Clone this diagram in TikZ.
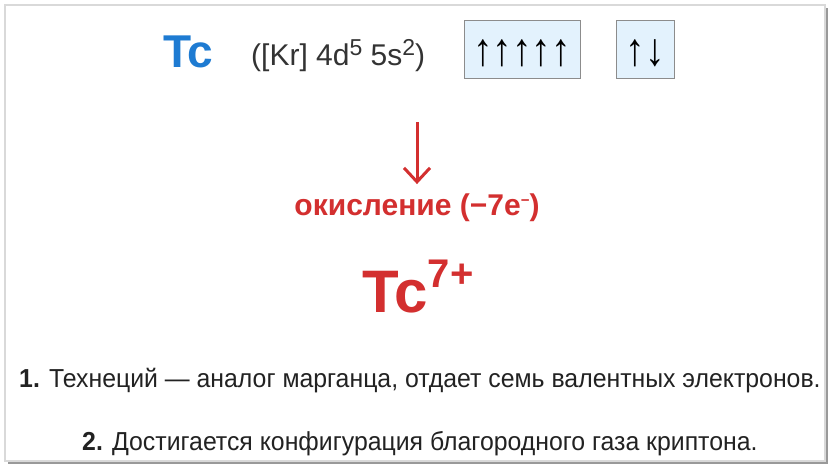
\documentclass[tikz,border=0pt]{standalone}
\usepackage{fontspec}
\setmainfont{Liberation Sans}
\newfontfamily\notefont[FakeStretch=0.955]{Liberation Sans}
\newfontfamily\spinfont[FakeStretch=0.85]{Liberation Sans}
\usetikzlibrary{positioning,arrows.meta}
\definecolor{tcblue}{HTML}{1E7BD2}
\definecolor{oxred}{HTML}{D32F2F}
\definecolor{orbfill}{HTML}{E3F2FD}
\definecolor{notegray}{HTML}{222222}
\newcommand{\upidx}[3]{\raisebox{#2}{\fontsize{#1}{#1}\selectfont #3}}
\newcommand{\spins}[1]{\raisebox{-4pt}[\height][\depth]{#1}}

\begin{document}
\begin{tikzpicture}[x=1pt,y=-1pt,on grid,
  orbital/.style={draw=black!45,fill=orbfill,line width=0.8pt,minimum height=58pt,inner sep=0pt,font=\spinfont\fontsize{46}{46}\selectfont},
  note/.style={text=notegray,font=\notefont\fontsize{26}{30}\selectfont,anchor=base west,inner sep=0pt},
  redtext/.style={text=oxred,font=\bfseries\fontsize{30}{32}\selectfont,inner sep=0pt}]
  \useasboundingbox (0,0) rectangle (836,474);
  % card
  \fill[black!40] (8,8) rectangle (828,464);
  \draw[black!15,line width=2pt,fill=white] (5,5) rectangle (825,461);

  \node[anchor=base west,text=tcblue,font=\bfseries\fontsize{46}{46}\selectfont,inner sep=0pt] (tc) at (163,67) {Tc};
  \node[anchor=base west,inner sep=0pt,text=black!80,font=\fontsize{30}{30}\selectfont] (config) at (251,65) {([Kr] 4d\upidx{23}{10pt}{5} 5s\upidx{23}{10pt}{2})};
  \node[orbital,minimum width=116pt] (d4) at (522,49) {\spins{↑↑↑↑↑}};
  \node[orbital,minimum width=58pt] (s5) [right=123pt of d4] {\spins{↑↓}};

  \node[redtext,anchor=base] (ox) at (417,215) {окисление (−7e\upidx{15}{10pt}{−})};
  \node[anchor=base west,text=oxred,font=\bfseries\fontsize{60}{60}\selectfont,inner sep=0pt] (ion) at (362,312) {Tc\upidx{40}{25pt}{7+}};

  \coordinate (arrtop) at (417,122);
  \draw[oxred,line width=3pt,-{Straight Barb[length=14pt,width=26pt]},shorten >=9pt] (arrtop) -- (ox.north);

  \node[note] (fact1) at (19,387) {\textbf{1.} Технеций — аналог марганца, отдает семь валентных электронов.};
  \node[note] (fact2) at (82,450) {\textbf{2.} Достигается конфигурация благородного газа криптона.};
\end{tikzpicture}
\end{document}
